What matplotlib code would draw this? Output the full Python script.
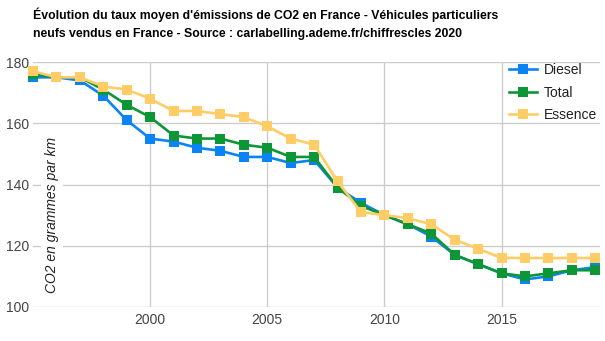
#!/usr/bin/env python
# -*- coding: utf-8 -*-
# Evolution du taux moyen d'emissions de CO2 - vehicules neufs en France

import matplotlib
matplotlib.use('Agg')
import matplotlib.pyplot as plt

plt.rcParams['font.family'] = ['Liberation Sans', 'DejaVu Sans']

# Data (g CO2 / km)
years = list(range(1995, 2020))
diesel = [175, 175, 174, 169, 161, 155, 154, 152, 151, 149, 149, 147, 148,
          139, 134, 130, 127, 123, 117, 114, 111, 109, 110, 112, 113]
total = [176, 175, 175, 171, 166, 162, 156, 155, 155, 153, 152, 149, 149,
         139, 133, 130, 127, 124, 117, 114, 111, 110, 111, 112, 112]
essence = [177, 175, 175, 172, 171, 168, 164, 164, 163, 162, 159, 155, 153,
           141, 131, 130, 129, 127, 122, 119, 116, 116, 116, 116, 116]

series_names = ['Diesel', 'Total', 'Essence']
colors = ['#0a84f5', '#0c9636', '#ffcc66']
yticks = [100, 120, 140, 160, 180]
xticks = [2000, 2005, 2010, 2015]

title = ("Évolution du taux moyen d'émissions de CO2 en France - Véhicules particuliers\n"
         "neufs vendus en France - Source : carlabelling.ademe.fr/chiffrescles 2020")

#.......................................................................
fig = plt.figure(figsize=(6.05, 3.41), dpi=100)
ax = fig.add_axes([33/605, 1-307/341, 567/605, 245/341])

for name, vals, col in zip(series_names, [diesel, total, essence], colors):
    ax.plot(years, vals, color=col, lw=1.9, marker='s', ms=7.2,
            markeredgewidth=0, label=name, clip_on=False, zorder=3)

ax.set_xlim(1995, 2019.2)
ax.set_ylim(100, 180)
ax.set_xticks(xticks)
ax.set_yticks(yticks)
ax.grid(True, color='#cccccc', lw=1)
ax.set_axisbelow(True)
for s in ax.spines.values():
    s.set_visible(False)
ax.tick_params(length=0, labelsize=10, labelcolor='#444444', pad=4)
ax.tick_params(axis='y', pad=3)

# axis title inside the plot with white box
ax.text(0.033, 0.376, 'CO2 en grammes par km', transform=ax.transAxes,
        rotation=90, ha='center', va='center', fontsize=10, style='italic',
        color='#222222', zorder=4,
        bbox=dict(facecolor='white', edgecolor='none', pad=3))

leg = ax.legend(loc='upper left', bbox_to_anchor=(472/567, 1.013), frameon=False,
                fontsize=10, handlelength=2.0, handletextpad=0.5,
                labelspacing=0.62, borderpad=0.3, borderaxespad=0)
for t in leg.get_texts():
    t.set_color('#222222')

fig.text(33/605, 1-7/341, title, ha='left', va='top', fontsize=8.8,
         fontweight='bold', color='#000000', linespacing=1.7)

fig.savefig('out.png', dpi=100)
